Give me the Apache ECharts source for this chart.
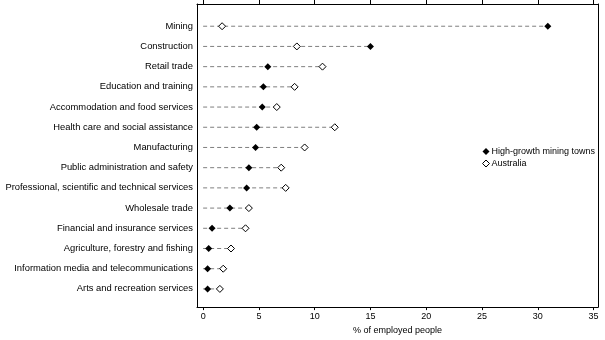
<!DOCTYPE html>
<html lang="en">
<head>
    <meta charset="UTF-8">
    <title>Employment by industry</title>
	<style>
	html, body { margin: 0; padding: 0; background: #fff; }
	#chart { width: 605px; height: 340px; }
	</style>
</head>
<body>
	<div id="chart"></div>
	<script src="https://cdn.jsdelivr.net/npm/echarts@6/dist/echarts.min.js"></script>
	<script>
	// industries, listed top to bottom
	var industries = [
		'Mining',
		'Construction',
		'Retail trade',
		'Education and training',
		'Accommodation and food services',
		'Health care and social assistance',
		'Manufacturing',
		'Public administration and safety',
		'Professional, scientific and technical services',
		'Wholesale trade',
		'Financial and insurance services',
		'Agriculture, forestry and fishing',
		'Information media and telecommunications',
		'Arts and recreation services'
	];
	var miningTowns = [30.9, 15.0, 5.8, 5.4, 5.3, 4.8, 4.7, 4.1, 3.9, 2.4, 0.8, 0.5, 0.4, 0.4];
	var australia   = [1.7, 8.4, 10.7, 8.2, 6.6, 11.8, 9.1, 7.0, 7.4, 4.1, 3.8, 2.5, 1.8, 1.5];
	var xTicks = [0, 5, 10, 15, 20, 25, 30, 35];

	var n = industries.length;
	// row position on the y value axis: first industry at the top
	function row(i) { return n - 1 - i; }
	var rows = industries.map(function (c, i) { return row(i); });

	var hgData = [], auData = [], lineData = [];
	for (var i = 0; i < n; i++) {
		hgData.push([miningTowns[i], row(i)]);
		auData.push([australia[i], row(i)]);
		lineData.push([0, Math.max(miningTowns[i], australia[i]), row(i)]);
	}

	var font = 'Liberation Sans';
	var chart = echarts.init(document.getElementById('chart'));
	chart.setOption({
		animation: false,
		grid: { left: 197, right: 7, top: 4, bottom: 32, containLabel: false },
		xAxis: [
			{
				type: 'value', min: -0.55, max: 35.4, position: 'bottom',
				name: '% of employed people', nameLocation: 'middle', nameGap: 18,
				nameTextStyle: { fontFamily: font, fontSize: 9, color: '#000' },
				axisLine: { show: true, onZero: false, lineStyle: { color: '#000', width: 1 } },
				axisTick: { show: true, length: 3, customValues: xTicks, lineStyle: { color: '#000' } },
				axisLabel: { customValues: xTicks, fontFamily: font, fontSize: 9, color: '#000', margin: 5 },
				splitLine: { show: false }
			},
			{
				type: 'value', min: -0.55, max: 35.4, position: 'top',
				axisLine: { show: true, onZero: false, lineStyle: { color: '#000', width: 1 } },
				axisTick: { show: true, length: 4, customValues: xTicks, lineStyle: { color: '#000' } },
				axisLabel: { show: false },
				splitLine: { show: false }
			}
		],
		yAxis: [
			{
				type: 'value', min: -0.9, max: 14.1, position: 'left',
				axisLine: { show: true, onZero: false, lineStyle: { color: '#000', width: 1 } },
				axisTick: { show: false },
				splitLine: { show: false },
				axisLabel: {
					customValues: rows,
					fontFamily: font, fontSize: 9.4, color: '#000', margin: 4,
					formatter: function (v) {
						var idx = n - 1 - Math.round(v);
						return (idx >= 0 && idx < n) ? industries[idx] : '';
					}
				}
			},
			{
				type: 'value', min: -0.9, max: 14.1, position: 'right',
				axisLine: { show: true, onZero: false, lineStyle: { color: '#000', width: 1 } },
				axisTick: { show: false }, axisLabel: { show: false }, splitLine: { show: false }
			}
		],
		legend: {
			orient: 'vertical', left: 477, top: 142,
			itemWidth: 7, itemHeight: 7, itemGap: 3,
			itemStyle: { borderWidth: 1 },
			textStyle: { fontFamily: font, fontSize: 9, color: '#000', padding: [0, 0, 0, -3] },
			data: [
				{ name: 'High-growth mining towns', icon: 'diamond' },
				{ name: 'Australia', icon: 'diamond' }
			]
		},
		series: [
			{
				type: 'custom', silent: true, z: 1,
				renderItem: function (params, api) {
					var a = api.coord([api.value(0), api.value(2)]);
					var b = api.coord([api.value(1), api.value(2)]);
					return {
						type: 'line',
						shape: { x1: a[0], y1: a[1], x2: b[0], y2: b[1] },
						style: { stroke: '#7f7f7f', lineWidth: 1, lineDash: [4, 3] }
					};
				},
				encode: { x: [0, 1], y: 2 },
				data: lineData
			},
			{
				name: 'High-growth mining towns', type: 'scatter', z: 3,
				symbol: 'diamond', symbolSize: 7,
				itemStyle: { color: '#000', opacity: 1 },
				data: hgData
			},
			{
				name: 'Australia', type: 'scatter', z: 3,
				symbol: 'diamond', symbolSize: 7,
				itemStyle: { color: '#fff', borderColor: '#000', borderWidth: 1, opacity: 1 },
				data: auData
			}
		]
	});
	</script>
</body>
</html>
